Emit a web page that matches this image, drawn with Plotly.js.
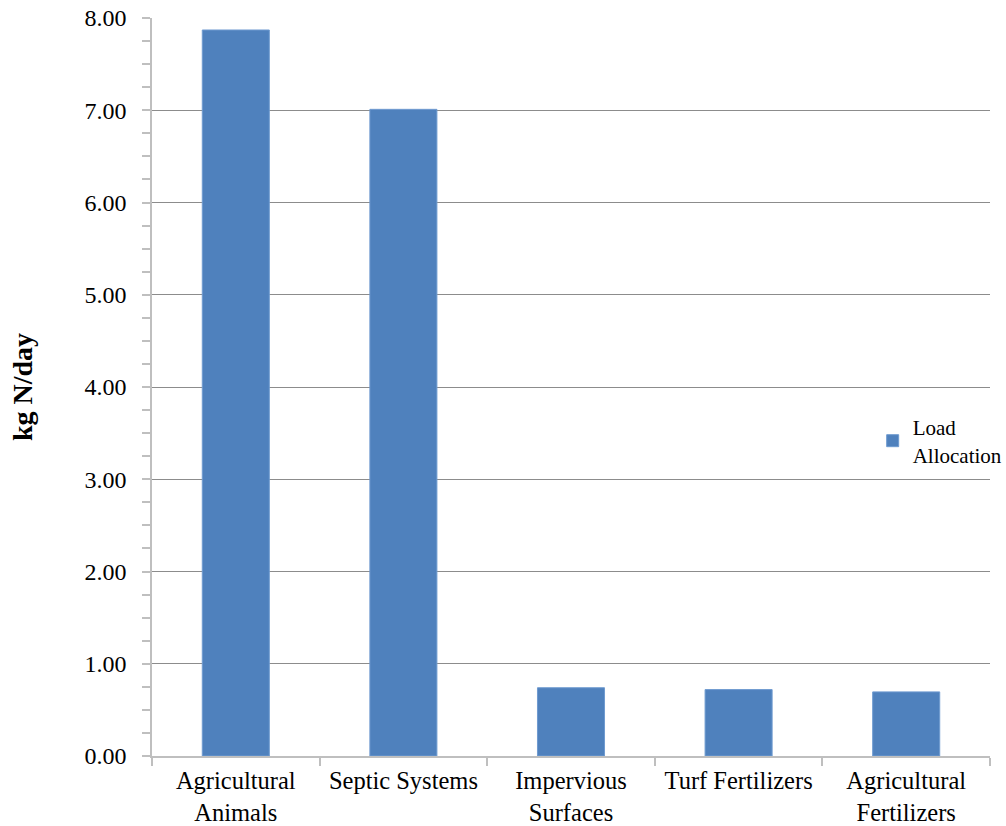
<!DOCTYPE html>
<html>
<head>
<meta charset="utf-8">
<script src="https://cdn.plot.ly/plotly-3.0.1.min.js"></script>
<style>html,body{margin:0;padding:0;background:#fff;}#chart{width:1006px;height:826px;}</style>
</head>
<body>
<div id="chart"></div>
<script>
const categories = ["Agricultural<br>Animals", "Septic Systems", "Impervious<br>Surfaces", "Turf Fertilizers", "Agricultural<br>Fertilizers"];
const loadAllocation = [7.87, 7.01, 0.74, 0.72, 0.695];
const seriesName = "Load<br>Allocation";
const yTickVals = [0, 1, 2, 3, 4, 5, 6, 7, 8];

const font = "Liberation Serif";
const data = [{
  type: "bar",
  x: categories,
  y: loadAllocation,
  name: seriesName,
  marker: {color: "#4f81bd", line: {color: "#6f9bd0", width: 1}},
  showlegend: true
}];
const layout = {
  width: 1006, height: 826,
  margin: {l: 152, r: 16, t: 18, b: 70, autoexpand: false},
  paper_bgcolor: "#fff", plot_bgcolor: "#fff",
  font: {family: font, size: 24, color: "#000"},
  bargap: 0.6,
  showlegend: true,
  legend: {x: 0.86, xanchor: "left", y: 0.427, yanchor: "middle", font: {family: font, size: 21, color: "#000"}, itemwidth: 30, bgcolor: "rgba(0,0,0,0)"},
  xaxis: {
    type: "category",
    showline: true, linecolor: "#bfbfbf", linewidth: 1.5,
    ticks: "outside", tickson: "boundaries", ticklen: 8, tickcolor: "#bfbfbf", tickwidth: 1.5,
    ticklabelstandoff: 2,
    showgrid: false, zeroline: false,
    tickfont: {family: font, size: 24.5, color: "#000"}
  },
  yaxis: {
    range: [0, 8],
    tickvals: yTickVals,
    tickformat: ".2f",
    showline: true, linecolor: "#bfbfbf", linewidth: 1.5,
    ticks: "outside", ticklen: 8, tickcolor: "#bfbfbf", tickwidth: 1.5,
    ticklabelstandoff: 11,
    minor: {dtick: 0.25, ticks: "outside", ticklen: 8, tickcolor: "#bfbfbf", tickwidth: 1.5, showgrid: false},
    showgrid: true, gridcolor: "#8c8c8c", gridwidth: 1,
    zeroline: false,
    tickfont: {family: font, size: 24, color: "#000"},
    title: {text: "<b>kg N/day</b>", font: {family: font, size: 28, color: "#000"}, standoff: 44}
  }
};
Plotly.newPlot("chart", data, layout, {displayModeBar: false});
</script>
</body>
</html>
